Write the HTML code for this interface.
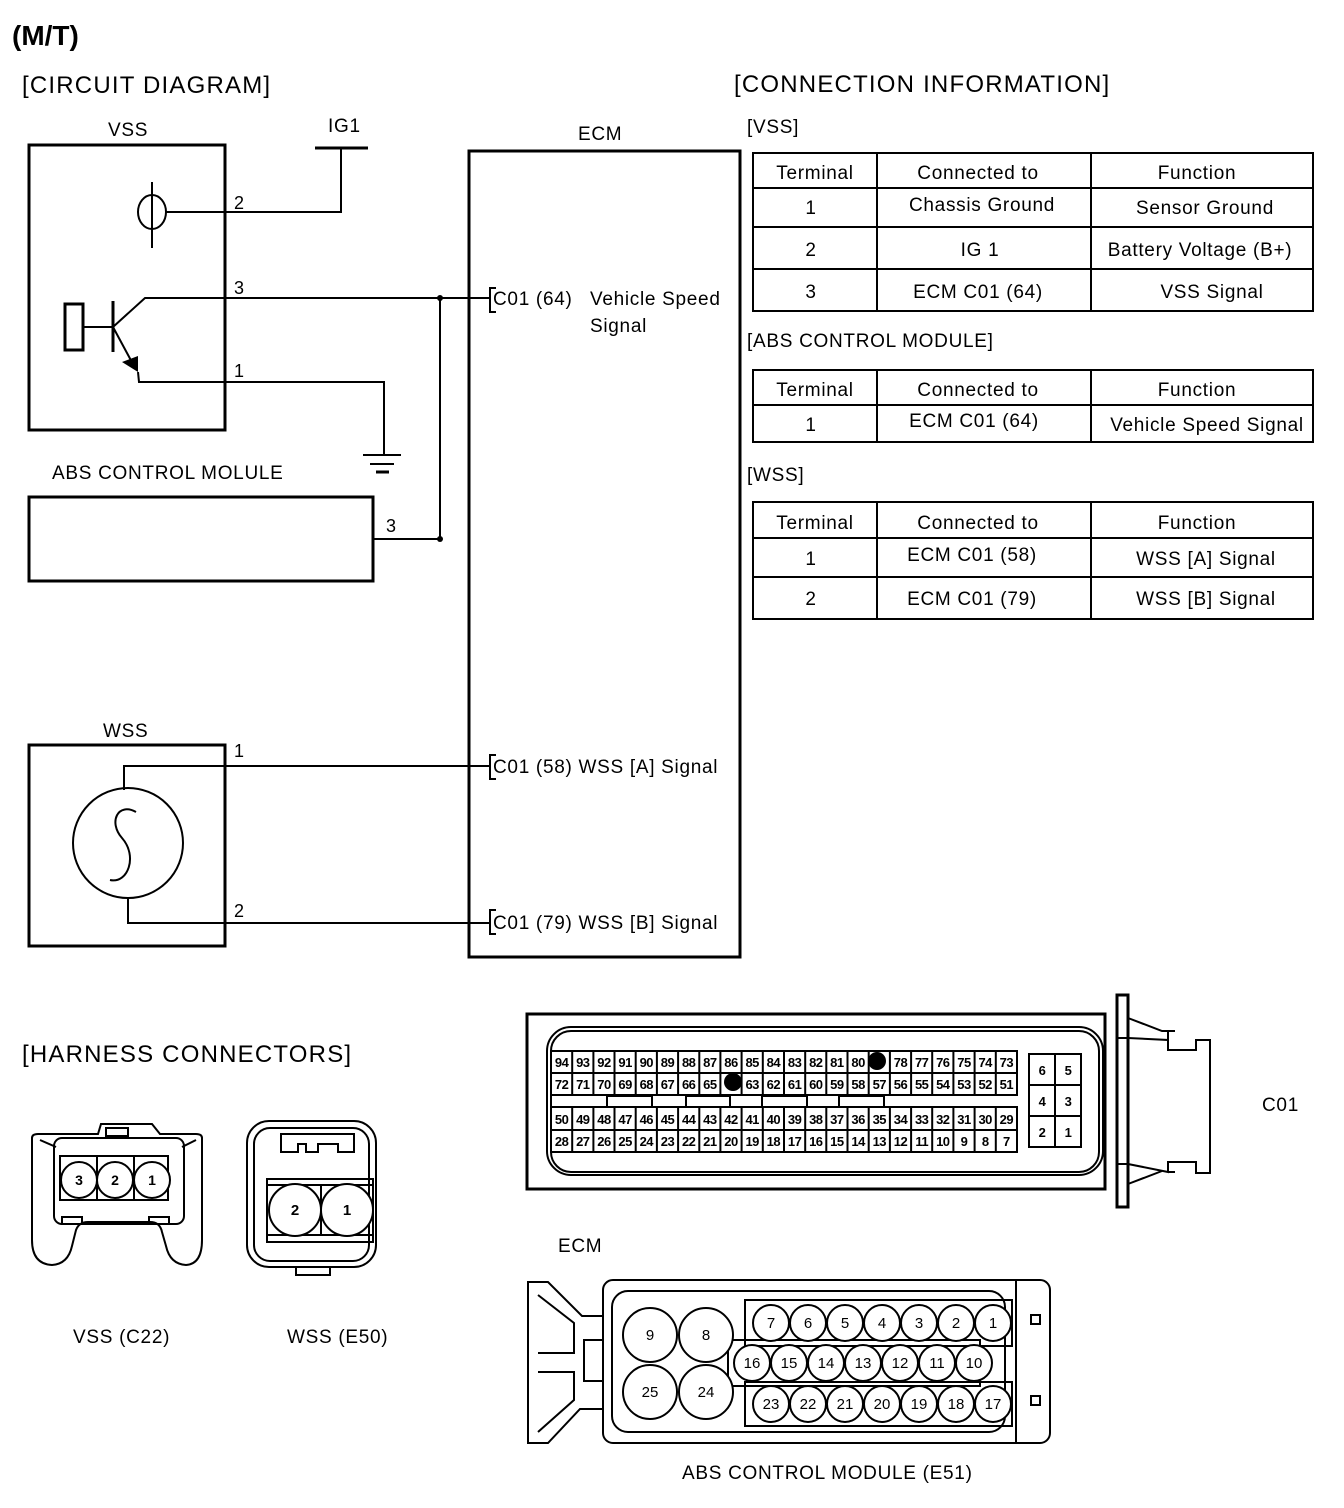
<!DOCTYPE html>
<html><head><meta charset="utf-8"><style>
html,body{margin:0;padding:0;background:#fff}
svg{display:block}
text{font-family:"Liberation Sans",Arial,sans-serif;fill:#000}
.t{letter-spacing:0.7px}
.h{letter-spacing:1.2px}
</style></head><body>
<svg width="1344" height="1508" viewBox="0 0 1344 1508" xmlns="http://www.w3.org/2000/svg">
<g fill="none" stroke="#000" stroke-width="2">
<rect x="29" y="145" width="196" height="285" stroke-width="3"/>
<ellipse cx="152" cy="212" rx="14" ry="17"/>
<line x1="152" y1="182" x2="152" y2="248"/>
<polyline points="166,212 341,212 341,148"/>
<line x1="315" y1="148" x2="368" y2="148" stroke-width="3"/>
<rect x="65" y="304" width="18" height="46" stroke-width="3"/>
<line x1="83" y1="327" x2="113" y2="327"/>
<line x1="113" y1="301" x2="113" y2="352" stroke-width="3"/>
<polyline points="113,327 145,298 490,298"/>
<line x1="113" y1="327" x2="134" y2="366"/>
<polyline points="138,372 139,382 384,382 384,455"/>
<line x1="363" y1="455" x2="401" y2="455"/>
<line x1="370" y1="464" x2="394" y2="464"/>
<line x1="376" y1="472" x2="389" y2="472" stroke-width="3"/>
<line x1="440" y1="298" x2="440" y2="539"/>
<rect x="29" y="497" width="344" height="84" stroke-width="3"/>
<line x1="373" y1="539" x2="440" y2="539"/>
<rect x="469" y="151" width="271" height="806" stroke-width="3"/>
<polyline points="496,288 490,288 490,312 496,312"/>
<polyline points="496,755 490,755 490,779 496,779"/>
<polyline points="496,910 490,910 490,934 496,934"/>
<rect x="29" y="745" width="196" height="201" stroke-width="3"/>
<circle cx="128" cy="843" r="55"/>
<path d="M136,812 C118,802 108,822 122,838 C138,856 128,884 110,880" />
<polyline points="124,790 124,766 490,766"/>
<polyline points="128,898 128,923 490,923"/>
</g>
<polygon points="122,362 138,356 138,372" fill="#000"/>
<circle cx="440" cy="298" r="3" fill="#000"/>
<circle cx="440" cy="539" r="3" fill="#000"/>

<text x="12" y="45" font-size="28" font-weight="bold">(M/T)</text>
<text class="h" x="22" y="93" font-size="24">[CIRCUIT DIAGRAM]</text>
<text class="h" x="734" y="92" font-size="24">[CONNECTION INFORMATION]</text>
<text class="t" x="108" y="136" font-size="19">VSS</text>
<text class="t" x="328" y="132" font-size="19">IG1</text>
<text class="t" x="578" y="140" font-size="19">ECM</text>
<text x="234" y="209" font-size="18">2</text>
<text x="234" y="294" font-size="18">3</text>
<text x="234" y="377" font-size="18">1</text>
<text class="t" x="52" y="479" font-size="19">ABS CONTROL MOLULE</text>
<text x="386" y="532" font-size="18">3</text>
<text class="t" x="103" y="737" font-size="19">WSS</text>
<text x="234" y="757" font-size="18">1</text>
<text x="234" y="917" font-size="18">2</text>
<text class="t" x="493" y="305" font-size="19">C01 (64)</text>
<text class="t" x="590" y="305" font-size="19">Vehicle Speed</text>
<text class="t" x="590" y="332" font-size="19">Signal</text>
<text class="t" x="493" y="773" font-size="19">C01 (58) WSS [A] Signal</text>
<text class="t" x="493" y="929" font-size="19">C01 (79) WSS [B] Signal</text>

<text class="t" x="747" y="133" font-size="19">[VSS]</text>
<g fill="none" stroke="#000" stroke-width="2">
<rect x="753" y="153" width="560" height="158"/>
<line x1="877" y1="153" x2="877" y2="311"/><line x1="1091" y1="153" x2="1091" y2="311"/>
<line x1="753" y1="188" x2="1313" y2="188"/><line x1="753" y1="227" x2="1313" y2="227"/><line x1="753" y1="269" x2="1313" y2="269"/>
<rect x="753" y="370" width="560" height="72"/>
<line x1="877" y1="370" x2="877" y2="442"/><line x1="1091" y1="370" x2="1091" y2="442"/>
<line x1="753" y1="405" x2="1313" y2="405"/>
<rect x="753" y="502" width="560" height="117"/>
<line x1="877" y1="502" x2="877" y2="619"/><line x1="1091" y1="502" x2="1091" y2="619"/>
<line x1="753" y1="538" x2="1313" y2="538"/><line x1="753" y1="577" x2="1313" y2="577"/>
</g>
<g font-size="19" text-anchor="middle" class="t">
<text x="815" y="179">Terminal</text><text x="978" y="179">Connected to</text><text x="1197" y="179">Function</text>
<text x="811" y="214">1</text><text x="982" y="211">Chassis Ground</text><text x="1205" y="214">Sensor Ground</text>
<text x="811" y="256">2</text><text x="980" y="256">IG 1</text><text x="1200" y="256">Battery Voltage (B+)</text>
<text x="811" y="298">3</text><text x="978" y="298">ECM C01 (64)</text><text x="1212" y="298">VSS Signal</text>
<text x="815" y="396">Terminal</text><text x="978" y="396">Connected to</text><text x="1197" y="396">Function</text>
<text x="811" y="431">1</text><text x="974" y="427">ECM C01 (64)</text><text x="1207" y="431">Vehicle Speed Signal</text>
<text x="815" y="529">Terminal</text><text x="978" y="529">Connected to</text><text x="1197" y="529">Function</text>
<text x="811" y="565">1</text><text x="972" y="561">ECM C01 (58)</text><text x="1206" y="565">WSS [A] Signal</text>
<text x="811" y="605">2</text><text x="972" y="605">ECM C01 (79)</text><text x="1206" y="605">WSS [B] Signal</text>
</g>
<text class="t" x="747" y="347" font-size="19">[ABS CONTROL MODULE]</text>
<text class="t" x="747" y="481" font-size="19">[WSS]</text>

<text class="h" x="22" y="1062" font-size="24">[HARNESS CONNECTORS]</text>
<text class="t" x="73" y="1343" font-size="19">VSS (C22)</text>
<text class="t" x="287" y="1343" font-size="19">WSS (E50)</text>
<text class="t" x="1262" y="1111" font-size="19">C01</text>
<text class="t" x="558" y="1252" font-size="19">ECM</text>
<text class="t" x="682" y="1479" font-size="19">ABS  CONTROL MODULE (E51)</text>

<g fill="none" stroke="#000" stroke-width="2">
<path d="M32,1138 L32,1240 Q32,1264 52,1265 Q68,1264 72,1246 L76,1230 Q79,1222 88,1222 L150,1222 Q160,1222 162,1232 L166,1246 Q170,1264 186,1265 Q202,1264 202,1240 L202,1138 Q202,1134 196,1134 L160,1134 L152,1124 L101,1124 L98,1134 L38,1134 Q32,1134 32,1138 Z"/>
<rect x="54" y="1138" width="130" height="86" rx="8"/>
<line x1="56" y1="1147" x2="40" y2="1140"/><line x1="182" y1="1147" x2="196" y2="1140"/>
<rect x="60" y="1156" width="108" height="44"/>
<line x1="97" y1="1156" x2="97" y2="1200"/><line x1="134" y1="1156" x2="134" y2="1200"/>
<rect x="62" y="1217" width="20" height="7"/><rect x="149" y="1217" width="20" height="7"/>
<rect x="106" y="1128" width="22" height="8"/>
</g>
<g fill="#fff" stroke="#000" stroke-width="2">
<circle cx="79" cy="1180" r="18"/><circle cx="115" cy="1180" r="18"/><circle cx="152" cy="1180" r="18"/>
</g>
<g font-size="14" font-weight="bold" text-anchor="middle"><text x="79" y="1185">3</text><text x="115" y="1185">2</text><text x="152" y="1185">1</text></g>

<g fill="none" stroke="#000" stroke-width="2">
<rect x="247" y="1121" width="129" height="146" rx="22"/>
<rect x="254" y="1128" width="115" height="133" rx="16"/>
<path d="M281,1134 L354,1134 L354,1152 L338,1152 L338,1144 L318,1144 L318,1152 L306,1152 L306,1144 L298,1144 L298,1152 L281,1152 Z"/>
<rect x="267" y="1179" width="106" height="63"/>
<line x1="267" y1="1185" x2="373" y2="1185"/>
<line x1="267" y1="1235" x2="373" y2="1235"/>
<line x1="321" y1="1185" x2="321" y2="1235"/>
<rect x="296" y="1267" width="34" height="8"/>
</g>
<g fill="#fff" stroke="#000" stroke-width="2"><circle cx="295" cy="1210" r="26"/><circle cx="347" cy="1210" r="26"/></g>
<g font-size="15" font-weight="bold" text-anchor="middle"><text x="295" y="1215">2</text><text x="347" y="1215">1</text></g>

<g fill="none" stroke="#000" stroke-width="2">
<rect x="527" y="1014" width="578" height="175" stroke-width="3"/>
<rect x="547" y="1027" width="556" height="148" rx="24"/>
<rect x="551" y="1031" width="548" height="141" rx="20"/>
<rect x="1117" y="995" width="11" height="212" stroke-width="3"/>
<line x1="1117" y1="1038" x2="1128" y2="1038"/><line x1="1117" y1="1164" x2="1128" y2="1164"/>
<polyline points="1128,1018 1162,1031 1168,1031 1168,1040"/>
<polyline points="1128,1038 1168,1040 1168,1050 1196,1050 1196,1040 1210,1040 1210,1173 1196,1173 1196,1162 1168,1162 1168,1172 1128,1164"/>
<polyline points="1128,1184 1162,1171"/>
<line x1="1168" y1="1031" x2="1175" y2="1031"/><line x1="1168" y1="1172" x2="1175" y2="1172"/>
<rect x="551" y="1051" width="466" height="44"/>
<line x1="551" y1="1073" x2="1017" y2="1073"/>
<rect x="551" y="1107" width="466" height="45"/>
<line x1="551" y1="1130" x2="1017" y2="1130"/>
<path d="M572.2,1051V1095M593.4,1051V1095M614.5,1051V1095M635.7,1051V1095M656.9,1051V1095M678.1,1051V1095M699.3,1051V1095M720.4,1051V1095M741.6,1051V1095M762.8,1051V1095M784,1051V1095M805.2,1051V1095M826.3,1051V1095M847.5,1051V1095M868.7,1051V1095M889.9,1051V1095M911.1,1051V1095M932.2,1051V1095M953.4,1051V1095M974.6,1051V1095M995.8,1051V1095"/>
<path d="M572.2,1107V1152M593.4,1107V1152M614.5,1107V1152M635.7,1107V1152M656.9,1107V1152M678.1,1107V1152M699.3,1107V1152M720.4,1107V1152M741.6,1107V1152M762.8,1107V1152M784,1107V1152M805.2,1107V1152M826.3,1107V1152M847.5,1107V1152M868.7,1107V1152M889.9,1107V1152M911.1,1107V1152M932.2,1107V1152M953.4,1107V1152M974.6,1107V1152M995.8,1107V1152"/>
<rect x="607" y="1096" width="45" height="11"/><rect x="686" y="1096" width="44" height="11"/><rect x="762" y="1096" width="45" height="11"/><rect x="839" y="1096" width="45" height="11"/>
<rect x="1029" y="1054" width="52" height="93"/>
<line x1="1055" y1="1054" x2="1055" y2="1147"/><line x1="1029" y1="1085" x2="1081" y2="1085"/><line x1="1029" y1="1116" x2="1081" y2="1116"/>
</g>
<circle cx="877" cy="1061" r="9" fill="#000"/>
<circle cx="733" cy="1082" r="9" fill="#000"/>
<g font-size="13" font-weight="bold" text-anchor="middle" letter-spacing="-0.5">
<text x="561.6" y="1067">94</text><text x="582.8" y="1067">93</text><text x="604" y="1067">92</text><text x="625.1" y="1067">91</text><text x="646.3" y="1067">90</text><text x="667.5" y="1067">89</text><text x="688.7" y="1067">88</text><text x="709.9" y="1067">87</text><text x="731" y="1067">86</text><text x="752.2" y="1067">85</text><text x="773.4" y="1067">84</text><text x="794.6" y="1067">83</text><text x="815.8" y="1067">82</text><text x="836.9" y="1067">81</text><text x="858.1" y="1067">80</text><text x="900.5" y="1067">78</text><text x="921.7" y="1067">77</text><text x="942.8" y="1067">76</text><text x="964" y="1067">75</text><text x="985.2" y="1067">74</text><text x="1006.4" y="1067">73</text>
<text x="561.6" y="1089">72</text><text x="582.8" y="1089">71</text><text x="604" y="1089">70</text><text x="625.1" y="1089">69</text><text x="646.3" y="1089">68</text><text x="667.5" y="1089">67</text><text x="688.7" y="1089">66</text><text x="709.9" y="1089">65</text><text x="752.2" y="1089">63</text><text x="773.4" y="1089">62</text><text x="794.6" y="1089">61</text><text x="815.8" y="1089">60</text><text x="836.9" y="1089">59</text><text x="858.1" y="1089">58</text><text x="879.3" y="1089">57</text><text x="900.5" y="1089">56</text><text x="921.7" y="1089">55</text><text x="942.8" y="1089">54</text><text x="964" y="1089">53</text><text x="985.2" y="1089">52</text><text x="1006.4" y="1089">51</text>
<text x="561.6" y="1124">50</text><text x="582.8" y="1124">49</text><text x="604" y="1124">48</text><text x="625.1" y="1124">47</text><text x="646.3" y="1124">46</text><text x="667.5" y="1124">45</text><text x="688.7" y="1124">44</text><text x="709.9" y="1124">43</text><text x="731" y="1124">42</text><text x="752.2" y="1124">41</text><text x="773.4" y="1124">40</text><text x="794.6" y="1124">39</text><text x="815.8" y="1124">38</text><text x="836.9" y="1124">37</text><text x="858.1" y="1124">36</text><text x="879.3" y="1124">35</text><text x="900.5" y="1124">34</text><text x="921.7" y="1124">33</text><text x="942.8" y="1124">32</text><text x="964" y="1124">31</text><text x="985.2" y="1124">30</text><text x="1006.4" y="1124">29</text>
<text x="561.6" y="1146">28</text><text x="582.8" y="1146">27</text><text x="604" y="1146">26</text><text x="625.1" y="1146">25</text><text x="646.3" y="1146">24</text><text x="667.5" y="1146">23</text><text x="688.7" y="1146">22</text><text x="709.9" y="1146">21</text><text x="731" y="1146">20</text><text x="752.2" y="1146">19</text><text x="773.4" y="1146">18</text><text x="794.6" y="1146">17</text><text x="815.8" y="1146">16</text><text x="836.9" y="1146">15</text><text x="858.1" y="1146">14</text><text x="879.3" y="1146">13</text><text x="900.5" y="1146">12</text><text x="921.7" y="1146">11</text><text x="942.8" y="1146">10</text><text x="964" y="1146">9</text><text x="985.2" y="1146">8</text><text x="1006.4" y="1146">7</text>
<text x="1042" y="1075">6</text><text x="1068" y="1075">5</text><text x="1042" y="1106">4</text><text x="1068" y="1106">3</text><text x="1042" y="1137">2</text><text x="1068" y="1137">1</text>
</g>

<g fill="none" stroke="#000" stroke-width="2">
<rect x="603" y="1280" width="447" height="163" rx="10"/>
<rect x="612" y="1291" width="393" height="141" rx="16"/>
<line x1="1016" y1="1281" x2="1016" y2="1442"/>
<rect x="1031" y="1315" width="9" height="9"/><rect x="1031" y="1396" width="9" height="9"/>
<polyline points="603,1316 582,1316 548,1282 528,1282 528,1443 548,1443 580,1409 603,1409"/>
<polyline points="538,1295 574,1323 574,1353 538,1353 Z"/>
<polyline points="538,1372 574,1372 574,1400 538,1432 Z"/>
<polyline points="603,1340 584,1340 584,1381 603,1381"/>
<rect x="745" y="1300" width="267" height="46"/>
<rect x="728" y="1340" width="252" height="46"/>
<rect x="745" y="1382" width="267" height="44"/>
</g>
<g fill="#fff" stroke="#000" stroke-width="2">
<circle cx="650" cy="1335" r="27"/><circle cx="706" cy="1335" r="27"/><circle cx="650" cy="1392" r="27"/><circle cx="706" cy="1392" r="27"/>
<circle cx="771" cy="1323" r="18"/><circle cx="808" cy="1323" r="18"/><circle cx="845" cy="1323" r="18"/><circle cx="882" cy="1323" r="18"/><circle cx="919" cy="1323" r="18"/><circle cx="956" cy="1323" r="18"/><circle cx="993" cy="1323" r="18"/>
<circle cx="752" cy="1363" r="18"/><circle cx="789" cy="1363" r="18"/><circle cx="826" cy="1363" r="18"/><circle cx="863" cy="1363" r="18"/><circle cx="900" cy="1363" r="18"/><circle cx="937" cy="1363" r="18"/><circle cx="974" cy="1363" r="18"/>
<circle cx="771" cy="1404" r="18"/><circle cx="808" cy="1404" r="18"/><circle cx="845" cy="1404" r="18"/><circle cx="882" cy="1404" r="18"/><circle cx="919" cy="1404" r="18"/><circle cx="956" cy="1404" r="18"/><circle cx="993" cy="1404" r="18"/>
</g>
<g font-size="15" text-anchor="middle">
<text x="650" y="1340">9</text><text x="706" y="1340">8</text><text x="650" y="1397">25</text><text x="706" y="1397">24</text>
<text x="771" y="1328">7</text><text x="808" y="1328">6</text><text x="845" y="1328">5</text><text x="882" y="1328">4</text><text x="919" y="1328">3</text><text x="956" y="1328">2</text><text x="993" y="1328">1</text>
<text x="752" y="1368">16</text><text x="789" y="1368">15</text><text x="826" y="1368">14</text><text x="863" y="1368">13</text><text x="900" y="1368">12</text><text x="937" y="1368">11</text><text x="974" y="1368">10</text>
<text x="771" y="1409">23</text><text x="808" y="1409">22</text><text x="845" y="1409">21</text><text x="882" y="1409">20</text><text x="919" y="1409">19</text><text x="956" y="1409">18</text><text x="993" y="1409">17</text>
</g>
</svg>
</body></html>
